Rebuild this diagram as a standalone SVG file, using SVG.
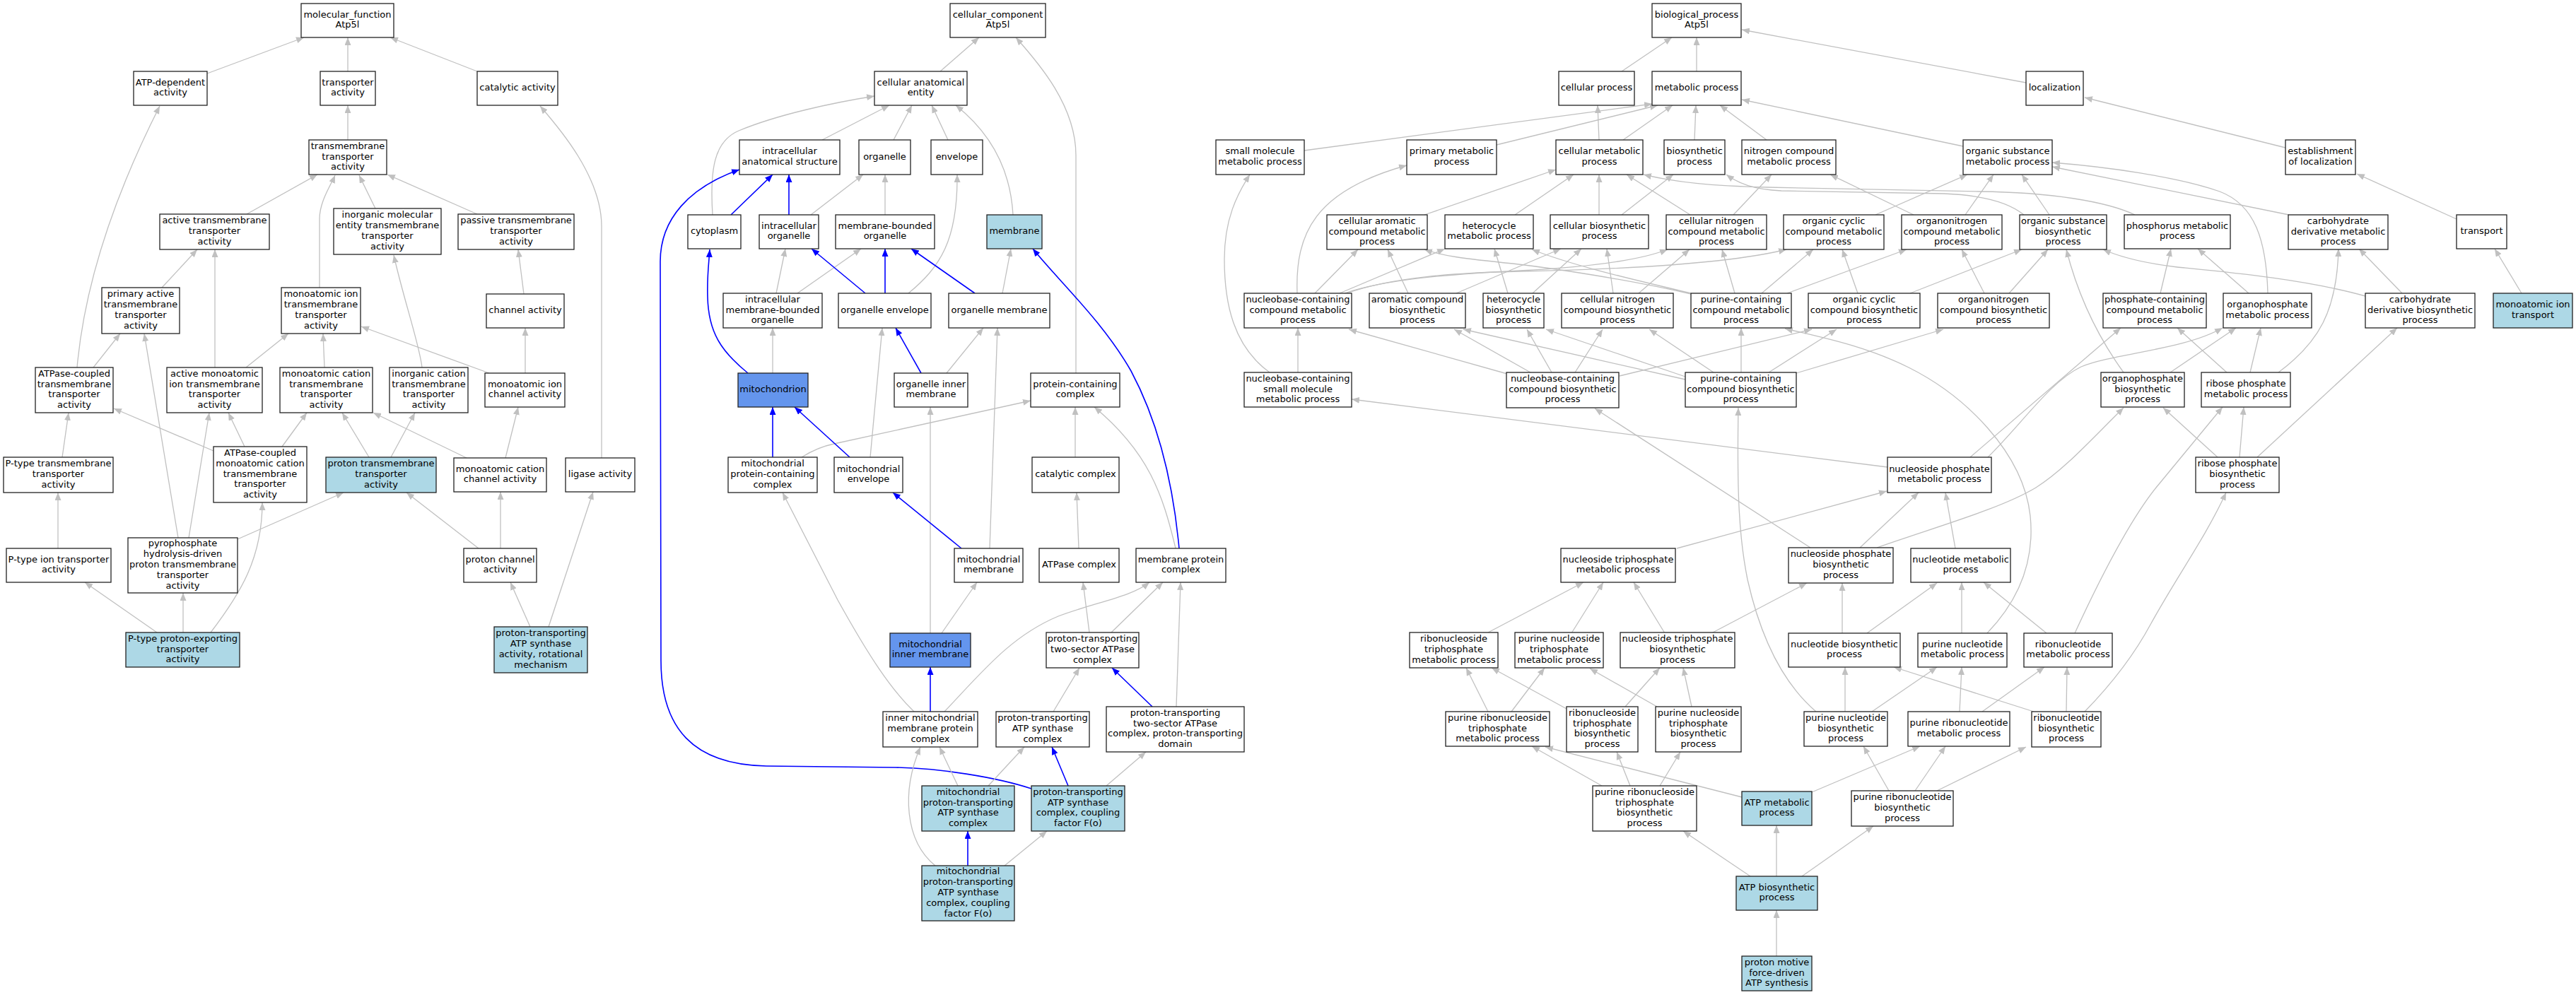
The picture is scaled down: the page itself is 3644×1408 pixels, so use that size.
<svg xmlns="http://www.w3.org/2000/svg" width="3644" height="1408" viewBox="0 0 3644 1408">
<style>
.n rect{fill:#fff;stroke:#222;stroke-width:1.3}
.n.lb rect{fill:#add8e6}
.n.cb rect{fill:#6495ed}
.n text{font-family:"DejaVu Sans","Liberation Sans",sans-serif;font-size:13px;text-anchor:middle;fill:#000}
.g{fill:none;stroke:#c0c0c0;stroke-width:1.3;marker-end:url(#ag)}
.b{fill:none;stroke:#0000ff;stroke-width:1.6;marker-end:url(#ab)}
</style>
<defs>
<marker id="ag" viewBox="0 0 11 9" refX="11" refY="4.5" markerWidth="11" markerHeight="9" markerUnits="userSpaceOnUse" orient="auto"><path d="M0,0 L11,4.5 L0,9 z" fill="#c0c0c0"/></marker>
<marker id="ab" viewBox="0 0 11 9" refX="11" refY="4.5" markerWidth="11" markerHeight="9" markerUnits="userSpaceOnUse" orient="auto"><path d="M0,0 L11,4.5 L0,9 z" fill="#0000ff"/></marker>
</defs>
<rect width="3644" height="1408" fill="#fff"/>
<g id="connectors">
<path class="g" d="M293,104 L430,53"/>
<path class="g" d="M492,101 L492,53"/>
<path class="g" d="M675,101 L552,53"/>
<path class="g" d="M492,198 L492,149"/>
<path class="g" d="M851,648 L851,320 C851,250 790,180 764,150"/>
<path class="g" d="M349,303 L449,247"/>
<path class="g" d="M452,407 L452,310 C452,285 468,262 474,248"/>
<path class="g" d="M531,295 L508,248"/>
<path class="g" d="M675,303 L548,247"/>
<path class="g" d="M229,407 L279,353"/>
<path class="g" d="M304,520 L304,353"/>
<path class="g" d="M741,416 L733,353"/>
<path class="g" d="M109,520 C118,420 150,300 226,150"/>
<path class="g" d="M132,520 L170,472"/>
<path class="g" d="M252,761 L204,472"/>
<path class="g" d="M348,520 L408,472"/>
<path class="g" d="M459,520 L457,472"/>
<path class="g" d="M692,528 L511,462"/>
<path class="g" d="M597,520 C594,490 570,420 557,361"/>
<path class="g" d="M743,528 L743,464"/>
<path class="g" d="M302,638 L161,578"/>
<path class="g" d="M346,632 L323,584"/>
<path class="g" d="M399,632 L434,584"/>
<path class="g" d="M522,647 L484,584"/>
<path class="g" d="M553,647 L587,584"/>
<path class="g" d="M660,648 L528,584"/>
<path class="g" d="M715,648 L733,576"/>
<path class="g" d="M88,647 L97,584"/>
<path class="g" d="M82,776 L82,697"/>
<path class="g" d="M267,761 L296,584"/>
<path class="g" d="M336,763 L486,697"/>
<path class="g" d="M677,776 L575,697"/>
<path class="g" d="M708,776 L708,696"/>
<path class="g" d="M222,895 L120,824"/>
<path class="g" d="M259,895 L259,839"/>
<path class="g" d="M298,895 C340,840 371,790 371,711"/>
<path class="g" d="M750,887 L722,824"/>
<path class="g" d="M776,887 L839,696"/>

<path class="g" d="M1330,101 L1385,53"/>
<path class="g" d="M1522,528 L1522,220 C1522,150 1470,90 1437,53"/>
<path class="g" d="M1163,198 L1258,149"/>
<path class="g" d="M1008,304 C1004,240 1010,200 1045,185 C1100,162 1180,145 1237,136"/>
<path class="g" d="M1264,198 L1290,149"/>
<path class="g" d="M1341,198 L1318,149"/>
<path class="g" d="M1433,304 C1430,250 1410,195 1352,149"/>
<path class="b" d="M1034,304 L1093,247"/>
<path class="b" d="M1116,304 L1116,247"/>
<path class="b" d="M1459,1116 C1410,1100 1330,1087 1267,1086 L1084,1084 C980,1082 935,1030 935,935 L934,370 C934,310 975,265 1046,240"/>
<path class="g" d="M1147,304 L1221,247"/>
<path class="g" d="M1252,304 L1252,247"/>
<path class="g" d="M1285,415 C1330,378 1355,340 1354,247"/>
<path class="g" d="M1098,415 L1111,352"/>
<path class="g" d="M1128,415 L1218,352"/>
<path class="b" d="M1224,415 L1148,352"/>
<path class="b" d="M1252,415 L1252,352"/>
<path class="b" d="M1379,415 L1289,352"/>
<path class="g" d="M1418,415 L1430,352"/>
<path class="b" d="M1668,776 C1660,690 1640,600 1600,525 C1560,455 1500,400 1461,352"/>
<path class="b" d="M1058,528 C1020,497 1002,470 1001,420 C1000,390 1003,370 1004,353"/>
<path class="g" d="M1093,528 L1093,464"/>
<path class="b" d="M1303,528 L1267,464"/>
<path class="g" d="M1339,528 L1391,464"/>
<path class="g" d="M1231,647 L1248,464"/>
<path class="g" d="M1400,776 L1411,464"/>
<path class="g" d="M1316,896 L1316,576"/>
<path class="g" d="M1134,647 C1150,637 1165,631 1180,628 L1458,567"/>
<path class="b" d="M1093,647 L1093,576"/>
<path class="b" d="M1202,647 L1124,576"/>
<path class="g" d="M1521,647 L1521,576"/>
<path class="g" d="M1663,776 C1645,700 1625,640 1548,576"/>
<path class="b" d="M1360,776 L1263,697"/>
<path class="g" d="M1293,1007 C1260,975 1230,930 1185,849 L1107,697"/>
<path class="g" d="M1332,896 L1382,824"/>
<path class="g" d="M1526,776 L1523,697"/>
<path class="b" d="M1316,1007 L1316,944"/>
<path class="g" d="M1336,1007 C1390,950 1430,900 1497,872 C1550,852 1600,845 1626,824"/>
<path class="g" d="M1541,895 L1532,824"/>
<path class="g" d="M1572,895 L1645,824"/>
<path class="g" d="M1664,1000 L1670,824"/>
<path class="b" d="M1630,1000 L1573,945"/>
<path class="g" d="M1490,1007 L1527,945"/>
<path class="g" d="M1355,1112 L1329,1057"/>
<path class="g" d="M1398,1112 L1449,1057"/>
<path class="b" d="M1511,1112 L1488,1057"/>
<path class="g" d="M1565,1112 L1621,1064"/>
<path class="g" d="M1323,1225 C1280,1190 1275,1120 1302,1057"/>
<path class="b" d="M1369,1225 L1369,1176"/>
<path class="g" d="M1421,1225 L1481,1176"/>

<path class="g" d="M2294,101 L2365,53"/>
<path class="g" d="M2400,101 L2400,53"/>
<path class="g" d="M2866,117 L2464,42"/>
<path class="g" d="M2262,198 L2260,149"/>
<path class="g" d="M2296,198 L2366,149"/>
<path class="g" d="M2397,198 L2399,149"/>
<path class="g" d="M2499,198 L2433,149"/>
<path class="g" d="M2777,207 L2464,141"/>
<path class="g" d="M1845,213 L2337,147"/>
<path class="g" d="M2117,205 L2345,149"/>
<path class="g" d="M2015,304 L2201,240"/>
<path class="g" d="M2143,304 L2226,247"/>
<path class="g" d="M2262,304 L2262,247"/>
<path class="g" d="M2294,304 L2367,247"/>
<path class="g" d="M2391,304 L2301,247"/>
<path class="g" d="M2452,304 L2506,247"/>
<path class="g" d="M2653,304 L2783,247"/>
<path class="g" d="M2707,304 L2589,247"/>
<path class="g" d="M2780,304 L2820,247"/>
<path class="g" d="M2899,304 L2860,247"/>
<path class="g" d="M3020,304 C2980,285 2900,272 2800,271 L2500,265 C2420,263 2370,258 2325,247"/>
<path class="g" d="M2863,304 C2840,285 2800,276 2750,274 L2520,270 C2480,268 2460,260 2442,247"/>
<path class="g" d="M3208,415 C3206,340 3190,290 3140,271 C3080,250 2980,236 2903,230"/>
<path class="g" d="M3238,304 L2903,236"/>
<path class="g" d="M3056,415 L3071,352"/>
<path class="g" d="M3181,415 L3109,352"/>
<path class="g" d="M3004,527 C2970,480 2940,420 2923,353"/>
<path class="g" d="M3346,419 C3260,395 3150,385 3080,378 C3030,372 3000,364 2975,353"/>
<path class="g" d="M3398,415 L3337,352"/>
<path class="g" d="M3223,527 C3280,485 3306,440 3308,352"/>
<path class="g" d="M3233,209 L2949,138"/>
<path class="g" d="M3475,310 L3334,246"/>
<path class="g" d="M3567,415 L3529,352"/>
<path class="g" d="M3070,527 L3163,464"/>
<path class="g" d="M3183,527 L3198,464"/>
<path class="g" d="M3150,527 L3080,464"/>
<path class="g" d="M3137,647 L3060,577"/>
<path class="g" d="M3168,647 L3174,576"/>
<path class="g" d="M3193,647 L3391,464"/>
<path class="g" d="M2787,647 L3000,464"/>
<path class="g" d="M2812,647 C2860,600 2900,540 2944,519 C2990,500 3090,495 3144,464"/>
<path class="g" d="M2935,896 C2970,820 3010,740 3050,690 L3144,576"/>
<path class="g" d="M2949,1007 C2990,965 3020,925 3043,882 C3080,815 3120,760 3149,697"/>
<path class="g" d="M2923,1007 L2924,944"/>
<path class="g" d="M2804,1007 L2892,944"/>
<path class="g" d="M2895,896 L2806,824"/>
<path class="g" d="M2740,1119 L2866,1057"/>
<path class="g" d="M2372,776 L2669,695"/>
<path class="g" d="M2631,775 L2714,697"/>
<path class="g" d="M2766,776 L2752,697"/>
<path class="g" d="M2561,775 L2256,578"/>
<path class="g" d="M2606,896 L2606,825"/>
<path class="g" d="M2641,896 L2740,825"/>
<path class="g" d="M2775,896 L2775,824"/>
<path class="g" d="M2811,896 C2860,845 2878,790 2872,730 C2862,640 2780,560 2700,520 C2640,490 2580,478 2525,465"/>
<path class="g" d="M2355,896 L2311,824"/>
<path class="g" d="M2421,896 L2556,825"/>
<path class="g" d="M2223,896 L2268,824"/>
<path class="g" d="M2105,895 L2240,824"/>
<path class="g" d="M2610,1007 L2610,944"/>
<path class="g" d="M2648,1007 L2740,944"/>
<path class="g" d="M2772,1007 L2775,944"/>
<path class="g" d="M2569,1007 C2520,965 2490,900 2472,820 C2460,760 2457,700 2459,577"/>
<path class="g" d="M2877,1007 L2679,944"/>
<path class="g" d="M2105,1007 L2074,945"/>
<path class="g" d="M2138,1007 L2185,945"/>
<path class="g" d="M2216,1003 L2110,945"/>
<path class="g" d="M2299,1000 L2348,945"/>
<path class="g" d="M2393,1000 L2381,945"/>
<path class="g" d="M2344,1000 L2249,946"/>
<path class="g" d="M2266,1112 L2167,1056"/>
<path class="g" d="M2306,1112 L2287,1064"/>
<path class="g" d="M2348,1112 L2377,1064"/>
<path class="g" d="M2464,1128 L2186,1057"/>
<path class="g" d="M2563,1121 L2716,1056"/>
<path class="g" d="M2672,1119 L2636,1056"/>
<path class="g" d="M2709,1119 L2752,1056"/>
<path class="g" d="M2476,1240 L2381,1176"/>
<path class="g" d="M2513,1240 L2513,1168"/>
<path class="g" d="M2549,1240 L2650,1169"/>
<path class="g" d="M2513,1353 L2513,1288"/>
<path class="g" d="M2282,415 L2273,352"/>
<path class="g" d="M2318,415 L2390,353"/>
<path class="g" d="M2168,415 L2237,352"/>
<path class="g" d="M2133,415 L2114,352"/>
<path class="g" d="M2060,415 L2208,352"/>
<path class="g" d="M1992,415 L1963,353"/>
<path class="g" d="M1860,415 L1921,353"/>
<path class="g" d="M1895,415 L2044,352"/>
<path class="g" d="M1835,415 C1832,330 1860,270 1990,234"/>
<path class="g" d="M1902,415 C1960,395 2050,388 2150,383 C2250,378 2320,368 2359,353"/>
<path class="g" d="M1905,415 C1970,392 2060,386 2150,384 C2300,381 2450,372 2527,353"/>
<path class="g" d="M2392,416 C2300,395 2200,380 2140,373 C2070,366 2040,362 2015,353"/>
<path class="g" d="M2392,415 C2330,400 2230,378 2167,353"/>
<path class="g" d="M2454,415 L2436,353"/>
<path class="g" d="M2492,415 L2565,353"/>
<path class="g" d="M2528,415 L2697,353"/>
<path class="g" d="M2628,415 L2606,353"/>
<path class="g" d="M2702,415 L2860,353"/>
<path class="g" d="M2807,415 L2775,353"/>
<path class="g" d="M2842,415 L2897,353"/>
<path class="g" d="M2424,527 L2333,466"/>
<path class="g" d="M2195,527 L2160,466"/>
<path class="g" d="M2384,533 L2187,466"/>
<path class="g" d="M2165,527 L2057,466"/>
<path class="g" d="M2384,537 L2070,466"/>
<path class="g" d="M2228,527 L2267,466"/>
<path class="g" d="M2132,529 L1908,466"/>
<path class="g" d="M1836,527 L1836,464"/>
<path class="g" d="M1796,527 C1745,490 1732,430 1732,367 C1732,310 1750,275 1768,247"/>
<path class="g" d="M2670,661 L1912,565"/>
<path class="g" d="M2291,532 L2563,466"/>
<path class="g" d="M2502,527 L2598,466"/>
<path class="g" d="M2541,528 L2749,466"/>
<path class="g" d="M2463,527 L2463,464"/>
<path class="g" d="M2655,775 C2740,745 2830,720 2880,690 C2920,665 2960,620 3004,577"/>
</g>

<g id="mf" class="n"><rect x="426" y="5" width="131" height="48"/><text x="491.5" y="24.6"><tspan x="491.5">molecular_function</tspan><tspan x="491.5" dy="14.8">Atp5l</tspan></text></g>
<g id="mf_atpdep" class="n"><rect x="189" y="101" width="104" height="48"/><text x="241" y="120.6"><tspan x="241">ATP-dependent</tspan><tspan x="241" dy="14.8">activity</tspan></text></g>
<g id="mf_tra" class="n"><rect x="453" y="101" width="78" height="48"/><text x="492" y="120.6"><tspan x="492">transporter</tspan><tspan x="492" dy="14.8">activity</tspan></text></g>
<g id="mf_cat" class="n"><rect x="675" y="101" width="114" height="48"/><text x="732" y="128">catalytic activity</text></g>
<g id="mf_tmt" class="n"><rect x="437" y="198" width="110" height="49"/><text x="492" y="210.7"><tspan x="492">transmembrane</tspan><tspan x="492" dy="14.8">transporter</tspan><tspan x="492" dy="14.8">activity</tspan></text></g>
<g id="mf_atma" class="n"><rect x="226" y="303" width="155" height="50"/><text x="303.5" y="316.2"><tspan x="303.5">active transmembrane</tspan><tspan x="303.5" dy="14.8">transporter</tspan><tspan x="303.5" dy="14.8">activity</tspan></text></g>
<g id="mf_imett" class="n"><rect x="472" y="295" width="152" height="65"/><text x="548" y="308.3"><tspan x="548">inorganic molecular</tspan><tspan x="548" dy="14.8">entity transmembrane</tspan><tspan x="548" dy="14.8">transporter</tspan><tspan x="548" dy="14.8">activity</tspan></text></g>
<g id="mf_pass" class="n"><rect x="648" y="303" width="164" height="50"/><text x="730" y="316.2"><tspan x="730">passive transmembrane</tspan><tspan x="730" dy="14.8">transporter</tspan><tspan x="730" dy="14.8">activity</tspan></text></g>
<g id="mf_pata" class="n"><rect x="144" y="407" width="110" height="65"/><text x="199" y="420.3"><tspan x="199">primary active</tspan><tspan x="199" dy="14.8">transmembrane</tspan><tspan x="199" dy="14.8">transporter</tspan><tspan x="199" dy="14.8">activity</tspan></text></g>
<g id="mf_mitta" class="n"><rect x="398" y="407" width="112" height="65"/><text x="454" y="420.3"><tspan x="454">monoatomic ion</tspan><tspan x="454" dy="14.8">transmembrane</tspan><tspan x="454" dy="14.8">transporter</tspan><tspan x="454" dy="14.8">activity</tspan></text></g>
<g id="mf_chan" class="n"><rect x="688" y="416" width="110" height="48"/><text x="743" y="443">channel activity</text></g>
<g id="mf_atpct" class="n"><rect x="50" y="520" width="110" height="64"/><text x="105" y="532.8"><tspan x="105">ATPase-coupled</tspan><tspan x="105" dy="14.8">transmembrane</tspan><tspan x="105" dy="14.8">transporter</tspan><tspan x="105" dy="14.8">activity</tspan></text></g>
<g id="mf_amitt" class="n"><rect x="236" y="520" width="135" height="64"/><text x="303.5" y="532.8"><tspan x="303.5">active monoatomic</tspan><tspan x="303.5" dy="14.8">ion transmembrane</tspan><tspan x="303.5" dy="14.8">transporter</tspan><tspan x="303.5" dy="14.8">activity</tspan></text></g>
<g id="mf_mctt" class="n"><rect x="396" y="520" width="131" height="64"/><text x="461.5" y="532.8"><tspan x="461.5">monoatomic cation</tspan><tspan x="461.5" dy="14.8">transmembrane</tspan><tspan x="461.5" dy="14.8">transporter</tspan><tspan x="461.5" dy="14.8">activity</tspan></text></g>
<g id="mf_ictt" class="n"><rect x="551" y="520" width="111" height="64"/><text x="606.5" y="532.8"><tspan x="606.5">inorganic cation</tspan><tspan x="606.5" dy="14.8">transmembrane</tspan><tspan x="606.5" dy="14.8">transporter</tspan><tspan x="606.5" dy="14.8">activity</tspan></text></g>
<g id="mf_mich" class="n"><rect x="686" y="528" width="113" height="48"/><text x="742.5" y="547.6"><tspan x="742.5">monoatomic ion</tspan><tspan x="742.5" dy="14.8">channel activity</tspan></text></g>
<g id="mf_ptt" class="n"><rect x="5" y="647" width="155" height="50"/><text x="82.5" y="660.2"><tspan x="82.5">P-type transmembrane</tspan><tspan x="82.5" dy="14.8">transporter</tspan><tspan x="82.5" dy="14.8">activity</tspan></text></g>
<g id="mf_atpcmc" class="n"><rect x="302" y="632" width="132" height="79"/><text x="368" y="644.9"><tspan x="368">ATPase-coupled</tspan><tspan x="368" dy="14.8">monoatomic cation</tspan><tspan x="368" dy="14.8">transmembrane</tspan><tspan x="368" dy="14.8">transporter</tspan><tspan x="368" dy="14.8">activity</tspan></text></g>
<g id="mf_ptta" class="n lb"><rect x="461" y="647" width="156" height="50"/><text x="539" y="660.2"><tspan x="539">proton transmembrane</tspan><tspan x="539" dy="14.8">transporter</tspan><tspan x="539" dy="14.8">activity</tspan></text></g>
<g id="mf_mcch" class="n"><rect x="642" y="648" width="131" height="48"/><text x="707.5" y="667.6"><tspan x="707.5">monoatomic cation</tspan><tspan x="707.5" dy="14.8">channel activity</tspan></text></g>
<g id="mf_lig" class="n"><rect x="800" y="648" width="98" height="48"/><text x="849" y="675">ligase activity</text></g>
<g id="mf_ptita" class="n"><rect x="9" y="776" width="148" height="48"/><text x="83" y="795.6"><tspan x="83">P-type ion transporter</tspan><tspan x="83" dy="14.8">activity</tspan></text></g>
<g id="mf_pyro" class="n"><rect x="181" y="761" width="155" height="78"/><text x="258.5" y="773.4"><tspan x="258.5">pyrophosphate</tspan><tspan x="258.5" dy="14.8">hydrolysis-driven</tspan><tspan x="258.5" dy="14.8">proton transmembrane</tspan><tspan x="258.5" dy="14.8">transporter</tspan><tspan x="258.5" dy="14.8">activity</tspan></text></g>
<g id="mf_pcha" class="n"><rect x="656" y="776" width="103" height="48"/><text x="707.5" y="795.6"><tspan x="707.5">proton channel</tspan><tspan x="707.5" dy="14.8">activity</tspan></text></g>
<g id="mf_ptpe" class="n lb"><rect x="178" y="895" width="161" height="49"/><text x="258.5" y="907.7"><tspan x="258.5">P-type proton-exporting</tspan><tspan x="258.5" dy="14.8">transporter</tspan><tspan x="258.5" dy="14.8">activity</tspan></text></g>
<g id="mf_ptasa" class="n lb"><rect x="699" y="887" width="132" height="65"/><text x="765" y="900.3"><tspan x="765">proton-transporting</tspan><tspan x="765" dy="14.8">ATP synthase</tspan><tspan x="765" dy="14.8">activity, rotational</tspan><tspan x="765" dy="14.8">mechanism</tspan></text></g>

<g id="cc" class="n"><rect x="1344" y="5" width="135" height="48"/><text x="1411.5" y="24.6"><tspan x="1411.5">cellular_component</tspan><tspan x="1411.5" dy="14.8">Atp5l</tspan></text></g>
<g id="cc_cae" class="n"><rect x="1237" y="101" width="131" height="48"/><text x="1302.5" y="120.6"><tspan x="1302.5">cellular anatomical</tspan><tspan x="1302.5" dy="14.8">entity</tspan></text></g>
<g id="cc_ias" class="n"><rect x="1046" y="198" width="142" height="49"/><text x="1117" y="218.1"><tspan x="1117">intracellular</tspan><tspan x="1117" dy="14.8">anatomical structure</tspan></text></g>
<g id="cc_org" class="n"><rect x="1215" y="198" width="73" height="49"/><text x="1251.5" y="225.5">organelle</text></g>
<g id="cc_env" class="n"><rect x="1317" y="198" width="73" height="49"/><text x="1353.5" y="225.5">envelope</text></g>
<g id="cc_cyto" class="n"><rect x="973" y="304" width="75" height="48"/><text x="1010.5" y="331">cytoplasm</text></g>
<g id="cc_io" class="n"><rect x="1074" y="304" width="84" height="48"/><text x="1116" y="323.6"><tspan x="1116">intracellular</tspan><tspan x="1116" dy="14.8">organelle</tspan></text></g>
<g id="cc_mbo" class="n"><rect x="1182" y="304" width="140" height="48"/><text x="1252" y="323.6"><tspan x="1252">membrane-bounded</tspan><tspan x="1252" dy="14.8">organelle</tspan></text></g>
<g id="cc_mem" class="n lb"><rect x="1396" y="304" width="78" height="48"/><text x="1435" y="331">membrane</text></g>
<g id="cc_imbo" class="n"><rect x="1023" y="415" width="140" height="49"/><text x="1093" y="427.7"><tspan x="1093">intracellular</tspan><tspan x="1093" dy="14.8">membrane-bounded</tspan><tspan x="1093" dy="14.8">organelle</tspan></text></g>
<g id="cc_oe" class="n"><rect x="1186" y="415" width="131" height="49"/><text x="1251.5" y="442.5">organelle envelope</text></g>
<g id="cc_om" class="n"><rect x="1342" y="415" width="143" height="49"/><text x="1413.5" y="442.5">organelle membrane</text></g>
<g id="cc_mito" class="n cb"><rect x="1044" y="528" width="99" height="48"/><text x="1093.5" y="555">mitochondrion</text></g>
<g id="cc_oim" class="n"><rect x="1265" y="528" width="104" height="48"/><text x="1317" y="547.6"><tspan x="1317">organelle inner</tspan><tspan x="1317" dy="14.8">membrane</tspan></text></g>
<g id="cc_pcc" class="n"><rect x="1458" y="528" width="126" height="48"/><text x="1521" y="547.6"><tspan x="1521">protein-containing</tspan><tspan x="1521" dy="14.8">complex</tspan></text></g>
<g id="cc_mpcc" class="n"><rect x="1030" y="647" width="126" height="50"/><text x="1093" y="660.2"><tspan x="1093">mitochondrial</tspan><tspan x="1093" dy="14.8">protein-containing</tspan><tspan x="1093" dy="14.8">complex</tspan></text></g>
<g id="cc_menv" class="n"><rect x="1180" y="647" width="97" height="50"/><text x="1228.5" y="667.6"><tspan x="1228.5">mitochondrial</tspan><tspan x="1228.5" dy="14.8">envelope</tspan></text></g>
<g id="cc_catc" class="n"><rect x="1460" y="647" width="123" height="50"/><text x="1521.5" y="675">catalytic complex</text></g>
<g id="cc_mmem" class="n"><rect x="1350" y="776" width="97" height="48"/><text x="1398.5" y="795.6"><tspan x="1398.5">mitochondrial</tspan><tspan x="1398.5" dy="14.8">membrane</tspan></text></g>
<g id="cc_atpc" class="n"><rect x="1470" y="776" width="113" height="48"/><text x="1526.5" y="803">ATPase complex</text></g>
<g id="cc_mpc" class="n"><rect x="1607" y="776" width="127" height="48"/><text x="1670.5" y="795.6"><tspan x="1670.5">membrane protein</tspan><tspan x="1670.5" dy="14.8">complex</tspan></text></g>
<g id="cc_mim" class="n cb"><rect x="1259" y="896" width="114" height="48"/><text x="1316" y="915.6"><tspan x="1316">mitochondrial</tspan><tspan x="1316" dy="14.8">inner membrane</tspan></text></g>
<g id="cc_pttsac" class="n"><rect x="1480" y="895" width="131" height="50"/><text x="1545.5" y="908.2"><tspan x="1545.5">proton-transporting</tspan><tspan x="1545.5" dy="14.8">two-sector ATPase</tspan><tspan x="1545.5" dy="14.8">complex</tspan></text></g>
<g id="cc_immpc" class="n"><rect x="1249" y="1007" width="134" height="50"/><text x="1316" y="1020.2"><tspan x="1316">inner mitochondrial</tspan><tspan x="1316" dy="14.8">membrane protein</tspan><tspan x="1316" dy="14.8">complex</tspan></text></g>
<g id="cc_ptasc" class="n"><rect x="1409" y="1007" width="132" height="50"/><text x="1475" y="1020.2"><tspan x="1475">proton-transporting</tspan><tspan x="1475" dy="14.8">ATP synthase</tspan><tspan x="1475" dy="14.8">complex</tspan></text></g>
<g id="cc_pttsad" class="n"><rect x="1565" y="1000" width="195" height="64"/><text x="1662.5" y="1012.8"><tspan x="1662.5">proton-transporting</tspan><tspan x="1662.5" dy="14.8">two-sector ATPase</tspan><tspan x="1662.5" dy="14.8">complex, proton-transporting</tspan><tspan x="1662.5" dy="14.8">domain</tspan></text></g>
<g id="cc_mptasc" class="n lb"><rect x="1304" y="1112" width="131" height="64"/><text x="1369.5" y="1124.8"><tspan x="1369.5">mitochondrial</tspan><tspan x="1369.5" dy="14.8">proton-transporting</tspan><tspan x="1369.5" dy="14.8">ATP synthase</tspan><tspan x="1369.5" dy="14.8">complex</tspan></text></g>
<g id="cc_ptascf" class="n lb"><rect x="1459" y="1112" width="132" height="64"/><text x="1525" y="1124.8"><tspan x="1525">proton-transporting</tspan><tspan x="1525" dy="14.8">ATP synthase</tspan><tspan x="1525" dy="14.8">complex, coupling</tspan><tspan x="1525" dy="14.8">factor F(o)</tspan></text></g>
<g id="cc_mptascf" class="n lb"><rect x="1304" y="1225" width="131" height="78"/><text x="1369.5" y="1237.4"><tspan x="1369.5">mitochondrial</tspan><tspan x="1369.5" dy="14.8">proton-transporting</tspan><tspan x="1369.5" dy="14.8">ATP synthase</tspan><tspan x="1369.5" dy="14.8">complex, coupling</tspan><tspan x="1369.5" dy="14.8">factor F(o)</tspan></text></g>

<g id="bp" class="n"><rect x="2337" y="5" width="126" height="48"/><text x="2400" y="24.6"><tspan x="2400">biological_process</tspan><tspan x="2400" dy="14.8">Atp5l</tspan></text></g>
<g id="bp_cp" class="n"><rect x="2205" y="101" width="107" height="48"/><text x="2258.5" y="128">cellular process</text></g>
<g id="bp_mp" class="n"><rect x="2337" y="101" width="126" height="48"/><text x="2400" y="128">metabolic process</text></g>
<g id="bp_loc" class="n"><rect x="2866" y="101" width="81" height="48"/><text x="2906.5" y="128">localization</text></g>
<g id="bp_smm" class="n"><rect x="1720" y="198" width="125" height="49"/><text x="1782.5" y="218.1"><tspan x="1782.5">small molecule</tspan><tspan x="1782.5" dy="14.8">metabolic process</tspan></text></g>
<g id="bp_pmp" class="n"><rect x="1990" y="198" width="127" height="49"/><text x="2053.5" y="218.1"><tspan x="2053.5">primary metabolic</tspan><tspan x="2053.5" dy="14.8">process</tspan></text></g>
<g id="bp_cmp" class="n"><rect x="2201" y="198" width="123" height="49"/><text x="2262.5" y="218.1"><tspan x="2262.5">cellular metabolic</tspan><tspan x="2262.5" dy="14.8">process</tspan></text></g>
<g id="bp_bsp" class="n"><rect x="2354" y="198" width="86" height="49"/><text x="2397" y="218.1"><tspan x="2397">biosynthetic</tspan><tspan x="2397" dy="14.8">process</tspan></text></g>
<g id="bp_ncmp" class="n"><rect x="2464" y="198" width="133" height="49"/><text x="2530.5" y="218.1"><tspan x="2530.5">nitrogen compound</tspan><tspan x="2530.5" dy="14.8">metabolic process</tspan></text></g>
<g id="bp_osmp" class="n"><rect x="2777" y="198" width="126" height="49"/><text x="2840" y="218.1"><tspan x="2840">organic substance</tspan><tspan x="2840" dy="14.8">metabolic process</tspan></text></g>
<g id="bp_eol" class="n"><rect x="3233" y="198" width="99" height="49"/><text x="3282.5" y="218.1"><tspan x="3282.5">establishment</tspan><tspan x="3282.5" dy="14.8">of localization</tspan></text></g>
<g id="bp_camp" class="n"><rect x="1877" y="304" width="142" height="49"/><text x="1948" y="316.7"><tspan x="1948">cellular aromatic</tspan><tspan x="1948" dy="14.8">compound metabolic</tspan><tspan x="1948" dy="14.8">process</tspan></text></g>
<g id="bp_hmp" class="n"><rect x="2044" y="304" width="125" height="48"/><text x="2106.5" y="323.6"><tspan x="2106.5">heterocycle</tspan><tspan x="2106.5" dy="14.8">metabolic process</tspan></text></g>
<g id="bp_cbp" class="n"><rect x="2193" y="304" width="139" height="48"/><text x="2262.5" y="323.6"><tspan x="2262.5">cellular biosynthetic</tspan><tspan x="2262.5" dy="14.8">process</tspan></text></g>
<g id="bp_cncmp" class="n"><rect x="2357" y="304" width="142" height="49"/><text x="2428" y="316.7"><tspan x="2428">cellular nitrogen</tspan><tspan x="2428" dy="14.8">compound metabolic</tspan><tspan x="2428" dy="14.8">process</tspan></text></g>
<g id="bp_occmp" class="n"><rect x="2523" y="304" width="142" height="49"/><text x="2594" y="316.7"><tspan x="2594">organic cyclic</tspan><tspan x="2594" dy="14.8">compound metabolic</tspan><tspan x="2594" dy="14.8">process</tspan></text></g>
<g id="bp_oncmp" class="n"><rect x="2690" y="304" width="142" height="49"/><text x="2761" y="316.7"><tspan x="2761">organonitrogen</tspan><tspan x="2761" dy="14.8">compound metabolic</tspan><tspan x="2761" dy="14.8">process</tspan></text></g>
<g id="bp_osbp" class="n"><rect x="2857" y="304" width="123" height="49"/><text x="2918.5" y="316.7"><tspan x="2918.5">organic substance</tspan><tspan x="2918.5" dy="14.8">biosynthetic</tspan><tspan x="2918.5" dy="14.8">process</tspan></text></g>
<g id="bp_phmp" class="n"><rect x="3005" y="304" width="150" height="48"/><text x="3080" y="323.6"><tspan x="3080">phosphorus metabolic</tspan><tspan x="3080" dy="14.8">process</tspan></text></g>
<g id="bp_cdmp" class="n"><rect x="3237" y="304" width="141" height="49"/><text x="3307.5" y="316.7"><tspan x="3307.5">carbohydrate</tspan><tspan x="3307.5" dy="14.8">derivative metabolic</tspan><tspan x="3307.5" dy="14.8">process</tspan></text></g>
<g id="bp_tr" class="n"><rect x="3475" y="304" width="71" height="48"/><text x="3510.5" y="331">transport</text></g>
<g id="bp_nbcmp" class="n"><rect x="1760" y="415" width="152" height="49"/><text x="1836" y="427.7"><tspan x="1836">nucleobase-containing</tspan><tspan x="1836" dy="14.8">compound metabolic</tspan><tspan x="1836" dy="14.8">process</tspan></text></g>
<g id="bp_acbp" class="n"><rect x="1937" y="415" width="136" height="49"/><text x="2005" y="427.7"><tspan x="2005">aromatic compound</tspan><tspan x="2005" dy="14.8">biosynthetic</tspan><tspan x="2005" dy="14.8">process</tspan></text></g>
<g id="bp_hbp" class="n"><rect x="2098" y="415" width="86" height="49"/><text x="2141" y="427.7"><tspan x="2141">heterocycle</tspan><tspan x="2141" dy="14.8">biosynthetic</tspan><tspan x="2141" dy="14.8">process</tspan></text></g>
<g id="bp_cncbp" class="n"><rect x="2209" y="415" width="158" height="49"/><text x="2288" y="427.7"><tspan x="2288">cellular nitrogen</tspan><tspan x="2288" dy="14.8">compound biosynthetic</tspan><tspan x="2288" dy="14.8">process</tspan></text></g>
<g id="bp_pccmp" class="n"><rect x="2392" y="415" width="142" height="49"/><text x="2463" y="427.7"><tspan x="2463">purine-containing</tspan><tspan x="2463" dy="14.8">compound metabolic</tspan><tspan x="2463" dy="14.8">process</tspan></text></g>
<g id="bp_occbp" class="n"><rect x="2558" y="415" width="158" height="49"/><text x="2637" y="427.7"><tspan x="2637">organic cyclic</tspan><tspan x="2637" dy="14.8">compound biosynthetic</tspan><tspan x="2637" dy="14.8">process</tspan></text></g>
<g id="bp_oncbp" class="n"><rect x="2741" y="415" width="158" height="49"/><text x="2820" y="427.7"><tspan x="2820">organonitrogen</tspan><tspan x="2820" dy="14.8">compound biosynthetic</tspan><tspan x="2820" dy="14.8">process</tspan></text></g>
<g id="bp_pccm" class="n"><rect x="2975" y="415" width="146" height="49"/><text x="3048" y="427.7"><tspan x="3048">phosphate-containing</tspan><tspan x="3048" dy="14.8">compound metabolic</tspan><tspan x="3048" dy="14.8">process</tspan></text></g>
<g id="bp_opmp" class="n"><rect x="3145" y="415" width="125" height="49"/><text x="3207.5" y="435.1"><tspan x="3207.5">organophosphate</tspan><tspan x="3207.5" dy="14.8">metabolic process</tspan></text></g>
<g id="bp_cdbp" class="n"><rect x="3346" y="415" width="155" height="49"/><text x="3423.5" y="427.7"><tspan x="3423.5">carbohydrate</tspan><tspan x="3423.5" dy="14.8">derivative biosynthetic</tspan><tspan x="3423.5" dy="14.8">process</tspan></text></g>
<g id="bp_mit" class="n lb"><rect x="3527" y="415" width="112" height="49"/><text x="3583" y="435.1"><tspan x="3583">monoatomic ion</tspan><tspan x="3583" dy="14.8">transport</tspan></text></g>
<g id="bp_nbsmm" class="n"><rect x="1760" y="527" width="152" height="49"/><text x="1836" y="539.7"><tspan x="1836">nucleobase-containing</tspan><tspan x="1836" dy="14.8">small molecule</tspan><tspan x="1836" dy="14.8">metabolic process</tspan></text></g>
<g id="bp_nbcbp" class="n"><rect x="2131" y="527" width="159" height="50"/><text x="2210.5" y="539.7"><tspan x="2210.5">nucleobase-containing</tspan><tspan x="2210.5" dy="14.8">compound biosynthetic</tspan><tspan x="2210.5" dy="14.8">process</tspan></text></g>
<g id="bp_pccbp" class="n"><rect x="2384" y="527" width="157" height="49"/><text x="2462.5" y="539.7"><tspan x="2462.5">purine-containing</tspan><tspan x="2462.5" dy="14.8">compound biosynthetic</tspan><tspan x="2462.5" dy="14.8">process</tspan></text></g>
<g id="bp_opbp" class="n"><rect x="2972" y="527" width="118" height="49"/><text x="3031" y="539.7"><tspan x="3031">organophosphate</tspan><tspan x="3031" dy="14.8">biosynthetic</tspan><tspan x="3031" dy="14.8">process</tspan></text></g>
<g id="bp_rpmp" class="n"><rect x="3114" y="527" width="126" height="49"/><text x="3177" y="547.1"><tspan x="3177">ribose phosphate</tspan><tspan x="3177" dy="14.8">metabolic process</tspan></text></g>
<g id="bp_npmp" class="n"><rect x="2670" y="647" width="147" height="50"/><text x="2743.5" y="667.6"><tspan x="2743.5">nucleoside phosphate</tspan><tspan x="2743.5" dy="14.8">metabolic process</tspan></text></g>
<g id="bp_rpbp" class="n"><rect x="3106" y="647" width="118" height="50"/><text x="3165" y="660.2"><tspan x="3165">ribose phosphate</tspan><tspan x="3165" dy="14.8">biosynthetic</tspan><tspan x="3165" dy="14.8">process</tspan></text></g>
<g id="bp_ntmp" class="n"><rect x="2208" y="776" width="162" height="48"/><text x="2289" y="795.6"><tspan x="2289">nucleoside triphosphate</tspan><tspan x="2289" dy="14.8">metabolic process</tspan></text></g>
<g id="bp_npbp" class="n"><rect x="2530" y="775" width="148" height="50"/><text x="2604" y="788.2"><tspan x="2604">nucleoside phosphate</tspan><tspan x="2604" dy="14.8">biosynthetic</tspan><tspan x="2604" dy="14.8">process</tspan></text></g>
<g id="bp_nmp" class="n"><rect x="2703" y="776" width="141" height="48"/><text x="2773.5" y="795.6"><tspan x="2773.5">nucleotide metabolic</tspan><tspan x="2773.5" dy="14.8">process</tspan></text></g>
<g id="bp_rntmp" class="n"><rect x="1994" y="895" width="125" height="50"/><text x="2056.5" y="908.2"><tspan x="2056.5">ribonucleoside</tspan><tspan x="2056.5" dy="14.8">triphosphate</tspan><tspan x="2056.5" dy="14.8">metabolic process</tspan></text></g>
<g id="bp_pntmp" class="n"><rect x="2143" y="895" width="125" height="50"/><text x="2205.5" y="908.2"><tspan x="2205.5">purine nucleoside</tspan><tspan x="2205.5" dy="14.8">triphosphate</tspan><tspan x="2205.5" dy="14.8">metabolic process</tspan></text></g>
<g id="bp_ntbp" class="n"><rect x="2292" y="895" width="162" height="50"/><text x="2373" y="908.2"><tspan x="2373">nucleoside triphosphate</tspan><tspan x="2373" dy="14.8">biosynthetic</tspan><tspan x="2373" dy="14.8">process</tspan></text></g>
<g id="bp_nbp" class="n"><rect x="2530" y="896" width="158" height="48"/><text x="2609" y="915.6"><tspan x="2609">nucleotide biosynthetic</tspan><tspan x="2609" dy="14.8">process</tspan></text></g>
<g id="bp_pnmp" class="n"><rect x="2713" y="896" width="126" height="48"/><text x="2776" y="915.6"><tspan x="2776">purine nucleotide</tspan><tspan x="2776" dy="14.8">metabolic process</tspan></text></g>
<g id="bp_rnmp" class="n"><rect x="2863" y="896" width="125" height="48"/><text x="2925.5" y="915.6"><tspan x="2925.5">ribonucleotide</tspan><tspan x="2925.5" dy="14.8">metabolic process</tspan></text></g>
<g id="bp_prntmp" class="n"><rect x="2045" y="1007" width="147" height="49"/><text x="2118.5" y="1019.7"><tspan x="2118.5">purine ribonucleoside</tspan><tspan x="2118.5" dy="14.8">triphosphate</tspan><tspan x="2118.5" dy="14.8">metabolic process</tspan></text></g>
<g id="bp_rntbp" class="n"><rect x="2216" y="1000" width="101" height="64"/><text x="2266.5" y="1012.8"><tspan x="2266.5">ribonucleoside</tspan><tspan x="2266.5" dy="14.8">triphosphate</tspan><tspan x="2266.5" dy="14.8">biosynthetic</tspan><tspan x="2266.5" dy="14.8">process</tspan></text></g>
<g id="bp_pntbp" class="n"><rect x="2342" y="1000" width="121" height="64"/><text x="2402.5" y="1012.8"><tspan x="2402.5">purine nucleoside</tspan><tspan x="2402.5" dy="14.8">triphosphate</tspan><tspan x="2402.5" dy="14.8">biosynthetic</tspan><tspan x="2402.5" dy="14.8">process</tspan></text></g>
<g id="bp_pnbp" class="n"><rect x="2552" y="1007" width="118" height="49"/><text x="2611" y="1019.7"><tspan x="2611">purine nucleotide</tspan><tspan x="2611" dy="14.8">biosynthetic</tspan><tspan x="2611" dy="14.8">process</tspan></text></g>
<g id="bp_prnmp" class="n"><rect x="2699" y="1007" width="144" height="49"/><text x="2771" y="1027.1"><tspan x="2771">purine ribonucleotide</tspan><tspan x="2771" dy="14.8">metabolic process</tspan></text></g>
<g id="bp_rnbp" class="n"><rect x="2874" y="1007" width="98" height="50"/><text x="2923" y="1019.7"><tspan x="2923">ribonucleotide</tspan><tspan x="2923" dy="14.8">biosynthetic</tspan><tspan x="2923" dy="14.8">process</tspan></text></g>
<g id="bp_prntbp" class="n"><rect x="2253" y="1112" width="147" height="64"/><text x="2326.5" y="1124.8"><tspan x="2326.5">purine ribonucleoside</tspan><tspan x="2326.5" dy="14.8">triphosphate</tspan><tspan x="2326.5" dy="14.8">biosynthetic</tspan><tspan x="2326.5" dy="14.8">process</tspan></text></g>
<g id="bp_atpmp" class="n lb"><rect x="2464" y="1120" width="99" height="48"/><text x="2513.5" y="1139.6"><tspan x="2513.5">ATP metabolic</tspan><tspan x="2513.5" dy="14.8">process</tspan></text></g>
<g id="bp_prnbp" class="n"><rect x="2619" y="1119" width="144" height="50"/><text x="2691" y="1132.2"><tspan x="2691">purine ribonucleotide</tspan><tspan x="2691" dy="14.8">biosynthetic</tspan><tspan x="2691" dy="14.8">process</tspan></text></g>
<g id="bp_atpbp" class="n lb"><rect x="2456" y="1240" width="115" height="48"/><text x="2513.5" y="1259.6"><tspan x="2513.5">ATP biosynthetic</tspan><tspan x="2513.5" dy="14.8">process</tspan></text></g>
<g id="bp_pmf" class="n lb"><rect x="2464" y="1353" width="99" height="49"/><text x="2513.5" y="1365.7"><tspan x="2513.5">proton motive</tspan><tspan x="2513.5" dy="14.8">force-driven</tspan><tspan x="2513.5" dy="14.8">ATP synthesis</tspan></text></g>
</svg>
